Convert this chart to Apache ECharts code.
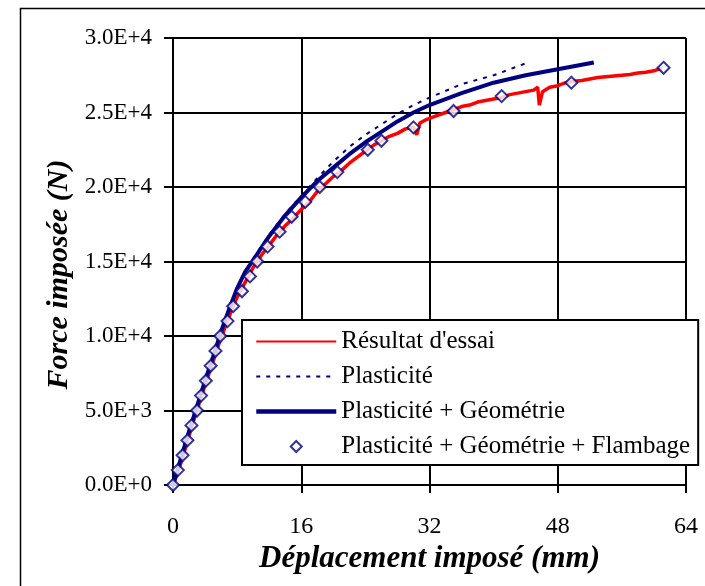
<!DOCTYPE html>
<html>
<head>
<meta charset="utf-8">
<script src="https://cdn.jsdelivr.net/npm/echarts@6/dist/echarts.min.js"></script>
<style>html,body{margin:0;padding:0;background:#fff}#c{width:705px;height:586px}</style>
</head>
<body>
<div id="c"></div>
<script>
// ---- data (displacement mm, force N) ----
var seriesNames = ["Résultat d'essai", "Plasticité", "Plasticité + Géométrie", "Plasticité + Géométrie + Flambage"];
var xTicks = [0, 16, 32, 48, 64];
var yTickLabels = ["0.0E+0", "5.0E+3", "1.0E+4", "1.5E+4", "2.0E+4", "2.5E+4", "3.0E+4"];

var essai = [
  [0,0],[0.5,700],[1,1500],[1.5,2400],[2,3300],[2.5,4200],[3,5000],[3.5,5900],[4,6700],[4.5,7500],
  [5,8300],[5.5,9100],[6,9900],[6.5,10600],[7,11300],[7.5,12000],[8,12600],[8.5,13100],[9,13600],
  [9.5,14100],[10,14600],[11,15400],[12,16100],[13,16800],[14,17400],[15,17900],[16,18500],[17,19000],
  [18,19700],[19,20200],[20,20700],[21,21100],[22,21600],[23,22000],[24,22400],[25,22800],[26,23100],
  [27,23400],[28,23600],[29,23900],[30,24000],[30.4,23500],[30.8,24300],[31.5,24500],[32,24600],
  [33,24800],[34,25000],[35,25200],[36,25400],[37,25500],[38,25700],[39,25800],[40,25900],[41,26000],
  [42,26200],[43,26300],[44,26400],[45,26500],[45.5,26700],[45.7,25500],[45.9,25600],[46.1,26400],
  [47,26700],[48,26800],[49,27000],[50,27100],[51,27150],[52,27250],[53,27350],[54,27400],[55,27450],
  [56,27500],[57,27550],[58,27650],[59,27700],[60,27800],[60.5,27900],[61,27950]
];
var plasticite = [
  [0,0],[1,1800],[2,3600],[3,5300],[4,7000],[5,8600],[6,10300],[7,11800],[8,13200],[9,14300],
  [10,15200],[12,16800],[14,18200],[16,19400],[18,20600],[20,21700],[22,22700],[24,23500],[26,24200],
  [28,24900],[30,25500],[32,26000],[36,26900],[40,27500],[44,28300]
];
var plastGeom = [
  [0,0],[1,1800],[2,3600],[3,5300],[4,7000],[5,8600],[6,10300],[7,11800],[8,13200],[9,14300],
  [10,15100],[12,16700],[14,18100],[16,19300],[18,20400],[20,21300],[22,22200],[24,23000],[26,23700],
  [28,24400],[30,25000],[32,25500],[36,26300],[40,27000],[44,27500],[48,27900],[52.5,28350]
];
var flambage = [
  [0,0],[0.6,1000],[1.2,2000],[1.8,3000],[2.3,4000],[3.0,5000],[3.5,6000],[4.1,7000],[4.7,8000],
  [5.3,9000],[5.9,10000],[6.8,11000],[7.5,12000],[8.6,13000],[9.6,14000],[10.5,15000],[11.8,16000],
  [13.3,17000],[14.8,18000],[16.5,19000],[18.3,20000],[20.5,21000],[24.3,22500],[26.0,23100],
  [30.0,24000],[35.0,25100],[41.0,26100],[49.7,27000],[61.2,28000]
];

var FONT = 'Liberation Serif, Times New Roman, serif';
var NAVY = '#000080';
// legend marker: small diamond centred in the wide legend icon box
var DIAMOND_ICON = 'path://M0,6M80,6M40,0.5L45.5,6L40,11.5L34.5,6Z';

var chart = echarts.init(document.getElementById('c'), null, {renderer: 'canvas'});
chart.setOption({
  backgroundColor: '#fff',
  animation: false,
  graphic: [{
    type: 'rect', left: 18, top: 6, shape: {width: 720, height: 620},
    style: {fill: 'none', stroke: '#000', lineWidth: 1.5}, silent: true, z: -10
  }],
  grid: {left: 173, top: 38, right: 19, bottom: 101, containLabel: false},
  legend: {
    orient: 'vertical', left: 242, top: 320,
    padding: [9, 8, 6, 12], itemGap: 10, itemWidth: 80, itemHeight: 12,
    backgroundColor: '#fff', borderColor: '#000', borderWidth: 2,
    textStyle: {fontFamily: FONT, fontSize: 25, color: '#000'},
    data: [
      {name: seriesNames[0], itemStyle: {opacity: 0}, lineStyle: {width: 2}},
      {name: seriesNames[1], itemStyle: {opacity: 0}, lineStyle: {width: 2}},
      {name: seriesNames[2], itemStyle: {opacity: 0}, lineStyle: {width: 4.5}},
      {name: seriesNames[3], icon: DIAMOND_ICON}
    ]
  },
  xAxis: {
    type: 'value', min: 0, max: 64, interval: 16,
    name: 'Déplacement imposé (mm)', nameLocation: 'middle', nameGap: 45,
    nameTextStyle: {fontFamily: FONT, fontSize: 31, fontWeight: 'bold', fontStyle: 'italic', color: '#000'},
    axisLine: {show: true, onZero: false, lineStyle: {color: '#000', width: 2}},
    axisTick: {show: true, inside: false, length: 8, lineStyle: {color: '#000', width: 2}},
    axisLabel: {margin: 30, fontFamily: FONT, fontSize: 24, color: '#000',
      formatter: function (v) { return xTicks.indexOf(v) >= 0 ? String(v) : ''; }},
    splitLine: {show: true, lineStyle: {color: '#000', width: 2}}
  },
  yAxis: {
    type: 'value', min: 0, max: 30000, interval: 5000,
    name: 'Force imposée (N)', nameLocation: 'middle', nameGap: 98,
    nameTextStyle: {fontFamily: FONT, fontSize: 30, fontWeight: 'bold', fontStyle: 'italic', color: '#000', padding: [0, 26, 0, 0]},
    axisLine: {show: true, lineStyle: {color: '#000', width: 2}},
    axisTick: {show: true, inside: false, length: 9, lineStyle: {color: '#000', width: 2}},
    axisLabel: {margin: 21, fontFamily: FONT, fontSize: 23, color: '#000',
      formatter: function (v) { return yTickLabels[Math.round(v / 5000)]; }},
    splitLine: {show: true, lineStyle: {color: '#000', width: 2}}
  },
  series: [
    {name: seriesNames[0], type: 'line', data: essai, showSymbol: false, symbol: 'none', z: 2,
      color: '#ff0000', lineStyle: {color: '#ff0000', width: 3.5}},
    {name: seriesNames[1], type: 'line', data: plasticite, showSymbol: false, symbol: 'none', z: 3,
      color: NAVY, lineStyle: {color: NAVY, width: 2, type: [4, 6]}},
    {name: seriesNames[2], type: 'line', data: plastGeom, showSymbol: false, symbol: 'none', z: 4,
      color: NAVY, lineStyle: {color: NAVY, width: 4}},
    {name: seriesNames[3], type: 'scatter', data: flambage, symbol: 'diamond', symbolSize: 12, z: 5,
      itemStyle: {color: '#fff', borderColor: NAVY, borderWidth: 2}}
  ]
});
</script>
</body>
</html>
